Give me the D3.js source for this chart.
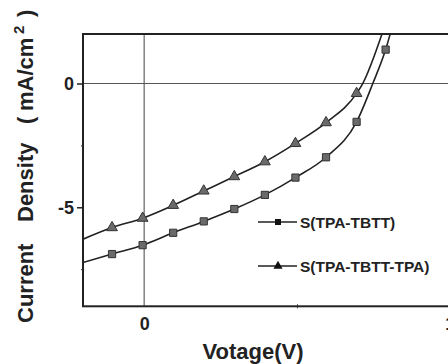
<!DOCTYPE html>
<html>
<head>
<meta charset="utf-8">
<script src="https://cdn.jsdelivr.net/npm/d3@7"></script>
<style>
  body { margin: 0; background: #fff; }
  text { font-family: "Liberation Sans", Arial, sans-serif; font-weight: bold; fill: #222; }
</style>
</head>
<body>
<div id="chart"></div>
<script>
// markers (V, mA/cm2)
const voltTBTT = [-0.105, -0.005, 0.095, 0.195, 0.295, 0.395, 0.495, 0.595, 0.695, 0.79];
const jTBTT = [-6.89, -6.53, -6.03, -5.57, -5.07, -4.50, -3.80, -2.98, -1.55, 1.37];
const voltTPA = [-0.105, -0.005, 0.095, 0.195, 0.295, 0.395, 0.495, 0.595, 0.695];
const jTPA = [-5.82, -5.44, -4.92, -4.34, -3.76, -3.16, -2.42, -1.58, -0.40];
// extra points where the fitted lines meet the frame / cross zero
const lineTBTTv = [-0.2, 0.748, 0.805];
const lineTBTTj = [-7.23, 0, 2];
const lineTPAv = [-0.2, 0.715, 0.778];
const lineTPAj = [-6.29, 0, 2];

const seriesNames = ["S(TPA-TBTT)", "S(TPA-TBTT-TPA)"];
const yTickLabels = [0, -5];
const xTickLabels = [0, 1];

const width = 448;
const height = 364;

const svg = d3.select("#chart")
  .append("svg")
  .attr("width", width)
  .attr("height", height);

const x = d3.scaleLinear().domain([-0.2, 1.1]).range([83, 480.4]);
const y = d3.scaleLinear().domain([2, -9]).range([34, 306.3]);

svg.append("clipPath").attr("id", "plot")
  .append("rect")
  .attr("x", x(-0.2)).attr("y", y(2))
  .attr("width", x(1.1) - x(-0.2)).attr("height", y(-9) - y(2));

// zero lines
svg.append("line")
  .attr("x1", x(0)).attr("x2", x(0))
  .attr("y1", y(2)).attr("y2", y(-9))
  .attr("stroke", "#444").attr("stroke-width", 1);
svg.append("line")
  .attr("x1", x(-0.2)).attr("x2", x(1.1))
  .attr("y1", y(0)).attr("y2", y(0))
  .attr("stroke", "#555").attr("stroke-width", 1);

const makeLine = (v, j, lv, lj) => {
  const pts = v.map((d, i) => [d, j[i]]).concat(lv.map((d, i) => [d, lj[i]]));
  return pts.sort((a, b) => a[0] - b[0]);
};

const line = d3.line()
  .x((d) => x(d[0]))
  .y((d) => y(d[1]))
  .curve(d3.curveMonotoneX);

const plot = svg.append("g").attr("clip-path", "url(#plot)");

plot.append("path")
  .datum(makeLine(voltTBTT, jTBTT, lineTBTTv, lineTBTTj))
  .attr("fill", "none")
  .attr("stroke", "#222")
  .attr("stroke-width", 1.6)
  .attr("d", line);

plot.append("path")
  .datum(makeLine(voltTPA, jTPA, lineTPAv, lineTPAj))
  .attr("fill", "none")
  .attr("stroke", "#222")
  .attr("stroke-width", 1.6)
  .attr("d", line);

const square = d3.symbol().type(d3.symbolSquare).size(52);
const triangle = d3.symbol().type(d3.symbolTriangle).size(50);

plot.selectAll(".sq")
  .data(voltTBTT.map((d, i) => [d, jTBTT[i]]))
  .enter()
  .append("path")
  .attr("class", "sq")
  .attr("transform", (d) => `translate(${x(d[0])},${y(d[1])})`)
  .attr("d", square)
  .attr("fill", "#6a6a6a")
  .attr("stroke", "#333")
  .attr("stroke-width", 1);

plot.selectAll(".tri")
  .data(voltTPA.map((d, i) => [d, jTPA[i]]))
  .enter()
  .append("path")
  .attr("class", "tri")
  .attr("transform", (d) => `translate(${x(d[0])},${y(d[1])})`)
  .attr("d", triangle)
  .attr("fill", "#6a6a6a")
  .attr("stroke", "#333")
  .attr("stroke-width", 1);

// frame
svg.append("rect")
  .attr("x", x(-0.2)).attr("y", y(2))
  .attr("width", x(1.1) - x(-0.2)).attr("height", y(-9) - y(2))
  .attr("fill", "none")
  .attr("stroke", "#222")
  .attr("stroke-width", 2);

// axes (plain hyphen for the minus, as in the picture)
const hyphen = (d) => String(d);

const yAxis = svg.append("g")
  .attr("transform", `translate(${x(-0.2)},0)`)
  .call(d3.axisLeft(y).tickValues(yTickLabels).tickSize(6).tickPadding(3).tickFormat(hyphen));
yAxis.select(".domain").remove();
yAxis.selectAll("text").style("font-size", "18px").attr("fill", "#222");
yAxis.selectAll("line").attr("stroke", "#222").attr("stroke-width", 1.5);

const yMinor = svg.append("g")
  .attr("transform", `translate(${x(-0.2)},0)`)
  .call(d3.axisLeft(y).tickValues([-2.5, -7.5]).tickSize(2).tickFormat(""));
yMinor.select(".domain").remove();
yMinor.selectAll("line").attr("stroke", "#333");

const xAxis = svg.append("g")
  .attr("transform", `translate(0,${y(-9)})`)
  .call(d3.axisBottom(x).tickValues(xTickLabels).tickSize(0).tickPadding(11).tickFormat(hyphen));
xAxis.select(".domain").remove();
xAxis.selectAll("text").style("font-size", "18px").attr("fill", "#222");

const xMinor = svg.append("g")
  .attr("transform", `translate(0,${y(-9) - 2})`)
  .call(d3.axisBottom(x).tickValues([0.5]).tickSize(4).tickFormat(""));
xMinor.select(".domain").remove();
xMinor.selectAll("line").attr("stroke", "#333");

// legend
const legend = svg.append("g");
const legendRows = [
  { name: seriesNames[0], sym: d3.symbol().type(d3.symbolSquare).size(36), y: 222 },
  { name: seriesNames[1], sym: d3.symbol().type(d3.symbolTriangle).size(36), y: 266 }
];
legendRows.forEach((r) => {
  legend.append("line")
    .attr("x1", 258).attr("x2", 297)
    .attr("y1", r.y).attr("y2", r.y)
    .attr("stroke", "#222").attr("stroke-width", 1.5);
  legend.append("path")
    .attr("transform", `translate(278,${r.y})`)
    .attr("d", r.sym)
    .attr("fill", "#111");
  legend.append("text")
    .attr("x", 300).attr("y", r.y)
    .attr("dy", "0.36em")
    .style("font-size", "15.5px")
    .text(r.name);
});

// axis titles
svg.append("text")
  .attr("x", 253).attr("y", 359)
  .attr("text-anchor", "middle")
  .style("font-size", "22px")
  .text("Votage(V)");

const yTitle = [
  { t: "Current", pos: 323, size: 22, off: 0 },
  { t: "Density", pos: 222, size: 22, off: 0 },
  { t: "(", pos: 124, size: 22, off: 0 },
  { t: "mA/cm", pos: 111, size: 22, off: 0 },
  { t: "2", pos: 34, size: 15, off: -9 },
  { t: ")", pos: 17, size: 22, off: 0 }
];
yTitle.forEach((p) => {
  svg.append("text")
    .attr("transform", `translate(${33 + p.off},${p.pos}) rotate(-90)`)
    .style("font-size", p.size + "px")
    .text(p.t);
});
</script>
</body>
</html>
